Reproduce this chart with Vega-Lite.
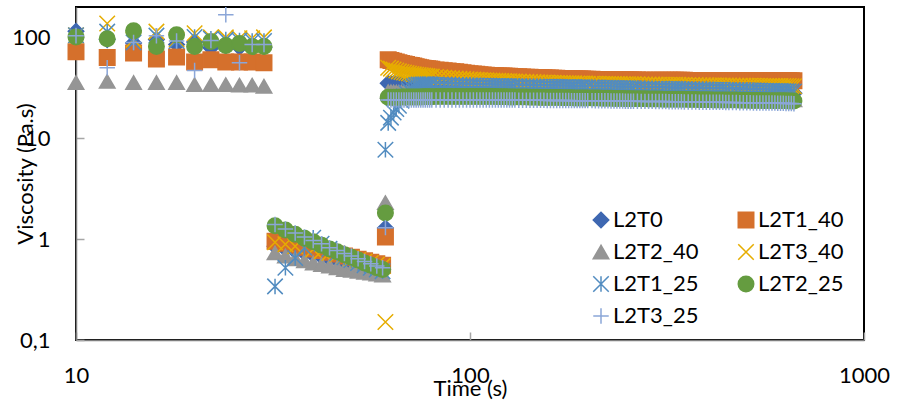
{
"$schema": "https://vega.github.io/schema/vega-lite/v6.json",
"width": 788, "height": 333,
"autosize": {"type": "none"},
"padding": {"left": 76, "top": 7, "right": 33, "bottom": 65},
"background": "white",
"config": {"view": {"stroke": "#000000", "strokeWidth": 2}, "font": "Lato"},
"data": {"values": [
{"t":10,"a":115,"b":72,"c":35.7,"d":105,"e":105,"f":101,"g":104},
{"t":12,"a":95,"b":63,"c":36.6,"d":137,"e":114,"f":97,"g":50},
{"t":14,"a":88,"b":70,"c":35.7,"d":95,"e":89,"f":116,"g":89},
{"t":16,"a":95,"b":61,"c":35.7,"d":114,"e":104,"f":81,"g":104},
{"t":18,"a":85,"b":64,"c":35.7,"d":95,"e":92,"f":106,"g":92},
{"t":20,"a":90,"b":57,"c":34,"d":110,"e":101,"f":81,"g":47},
{"t":22,"a":79,"b":60,"c":34,"d":100,"e":97,"f":91,"g":93},
{"t":24,"a":82,"b":57,"c":34,"d":100,"e":95,"f":83,"g":168},
{"t":26,"a":80,"b":57,"c":33.6,"d":98,"e":93,"f":87,"g":56},
{"t":28,"a":80,"b":57,"c":33.6,"d":98,"e":92,"f":81,"g":85},
{"t":30,"a":80,"b":56,"c":32.8,"d":100,"e":92,"f":81,"g":85},
{"t":32,"a":0.85,"b":0.95,"c":0.73,"d":0.93,"e":0.34,"f":1.36,"g":1.4},
{"t":34,"a":0.8,"b":0.91,"c":0.68,"d":0.89,"e":0.52,"f":1.23,"g":1.26},
{"t":36,"a":0.76,"b":0.87,"c":0.64,"d":0.85,"e":0.65,"f":1.12,"g":1.15},
{"t":38,"a":0.73,"b":0.83,"c":0.61,"d":0.82,"e":0.82,"f":1.02,"g":1.05},
{"t":40,"a":0.7,"b":0.8,"c":0.58,"d":0.79,"e":1.03,"f":0.94,"g":0.97},
{"t":42,"a":0.67,"b":0.77,"c":0.56,"d":0.76,"e":0.9,"f":0.87,"g":0.9},
{"t":44,"a":0.64,"b":0.74,"c":0.54,"d":0.73,"e":0.8,"f":0.8,"g":0.82},
{"t":46,"a":0.62,"b":0.71,"c":0.52,"d":0.7,"e":0.72,"f":0.75,"g":0.77},
{"t":48,"a":0.6,"b":0.68,"c":0.5,"d":0.67,"e":0.66,"f":0.7,"g":0.72},
{"t":50,"a":0.58,"b":0.66,"c":0.49,"d":0.65,"e":0.62,"f":0.66,"g":0.68},
{"t":52,"a":0.56,"b":0.63,"c":0.48,"d":0.62,"e":0.58,"f":0.62,"g":0.64},
{"t":54,"a":0.54,"b":0.61,"c":0.47,"d":0.6,"e":0.55,"f":0.58,"g":0.6},
{"t":56,"a":0.52,"b":0.59,"c":0.46,"d":0.58,"e":0.52,"f":0.55,"g":0.57},
{"t":58,"a":0.51,"b":0.57,"c":0.45,"d":0.56,"e":0.5,"f":0.52,"g":0.54},
{"t":60,"a":0.5,"b":0.55,"c":0.44,"d":0.54,"e":0.48,"f":0.5,"g":0.52},
{"t":61,"a":1.29,"b":1.05,"c":2.3,"d":0.151,"e":7.7,"f":1.82,"g":1.3},
{"t":62,"a":35,"b":60,"c":29,"d":50,"e":14.2,"f":25.5,"g":24},
{"t":63,"a":34.8,"b":59,"c":28.9,"d":49,"e":16,"f":25.5,"g":24},
{"t":64,"a":34.6,"b":58,"c":28.8,"d":48,"e":18,"f":25.5,"g":24},
{"t":65,"a":34.4,"b":57,"c":28.7,"d":47,"e":19.5,"f":25.5,"g":24},
{"t":66,"a":34.2,"b":56,"c":28.6,"d":46,"e":21,"f":25.5,"g":24},
{"t":67,"a":34,"b":55.2,"c":28.6,"d":45.4,"e":23.5,"f":25.6,"g":24},
{"t":68,"a":33.9,"b":54.5,"c":28.5,"d":44.8,"e":26,"f":25.6,"g":24},
{"t":69,"a":33.7,"b":53.7,"c":28.5,"d":44.3,"e":28,"f":25.6,"g":24},
{"t":70,"a":33.6,"b":53,"c":28.4,"d":43.8,"e":30,"f":25.6,"g":24},
{"t":71,"a":33.5,"b":52.5,"c":28.4,"d":43.4,"e":31.5,"f":25.7,"g":24},
{"t":72,"a":33.4,"b":52,"c":28.3,"d":43,"e":33,"f":25.7,"g":24},
{"t":73,"a":33.3,"b":51.2,"c":28.3,"d":42.6,"e":33.6,"f":25.7,"g":24},
{"t":74,"a":33.2,"b":50.5,"c":28.2,"d":42.3,"e":34,"f":25.7,"g":24},
{"t":75,"a":33.1,"b":50,"c":28.2,"d":42,"e":34.1,"f":25.7,"g":24},
{"t":76,"a":33,"b":49.5,"c":28.1,"d":41.8,"e":34.2,"f":25.8,"g":24},
{"t":77,"a":33,"b":49.1,"c":28.1,"d":41.5,"e":34.2,"f":25.8,"g":24},
{"t":78,"a":32.9,"b":48.8,"c":28,"d":41.3,"e":34.2,"f":25.8,"g":24},
{"t":79,"a":32.9,"b":48.5,"c":28,"d":41,"e":34.2,"f":25.8,"g":24},
{"t":80,"a":32.8,"b":48.2,"c":27.9,"d":40.8,"e":34.1,"f":25.8,"g":24},
{"t":82,"a":32.7,"b":47.6,"c":27.9,"d":40.4,"e":34,"f":25.9,"g":24},
{"t":84,"a":32.6,"b":47.2,"c":27.8,"d":40.1,"e":33.9,"f":25.9,"g":24},
{"t":86,"a":32.5,"b":46.8,"c":27.7,"d":39.8,"e":33.8,"f":26,"g":24},
{"t":88,"a":32.5,"b":46.5,"c":27.7,"d":39.5,"e":33.8,"f":26,"g":24},
{"t":90,"a":32.4,"b":46,"c":27.6,"d":39.3,"e":33.7,"f":26,"g":24},
{"t":92,"a":32.4,"b":45.5,"c":27.5,"d":39,"e":33.6,"f":26,"g":24},
{"t":94,"a":32.3,"b":45,"c":27.5,"d":38.8,"e":33.6,"f":26,"g":24},
{"t":96,"a":32.3,"b":44.5,"c":27.4,"d":38.6,"e":33.5,"f":26,"g":24},
{"t":98,"a":32.2,"b":44,"c":27.4,"d":38.4,"e":33.4,"f":26,"g":24},
{"t":100,"a":32.2,"b":43.6,"c":27.3,"d":38.2,"e":33.4,"f":26,"g":24},
{"t":102,"a":32.1,"b":43.3,"c":27.3,"d":38.1,"e":33.3,"f":26,"g":24},
{"t":104,"a":32.1,"b":43,"c":27.2,"d":37.9,"e":33.3,"f":26,"g":24},
{"t":106,"a":32,"b":42.7,"c":27.2,"d":37.8,"e":33.2,"f":26,"g":24},
{"t":108,"a":32,"b":42.4,"c":27.1,"d":37.6,"e":33.2,"f":26,"g":24},
{"t":110,"a":31.9,"b":42.2,"c":27.1,"d":37.5,"e":33.1,"f":25.9,"g":24},
{"t":112,"a":31.9,"b":42,"c":27,"d":37.4,"e":33.1,"f":25.9,"g":23.9},
{"t":114,"a":31.8,"b":41.8,"c":27,"d":37.3,"e":33,"f":25.9,"g":23.9},
{"t":116,"a":31.8,"b":41.7,"c":26.9,"d":37.2,"e":33,"f":25.9,"g":23.9},
{"t":118,"a":31.7,"b":41.5,"c":26.9,"d":37.1,"e":32.9,"f":25.8,"g":23.9},
{"t":120,"a":31.7,"b":41.4,"c":26.8,"d":37,"e":32.9,"f":25.8,"g":23.9},
{"t":122,"a":31.6,"b":41.3,"c":26.8,"d":36.9,"e":32.9,"f":25.8,"g":23.9},
{"t":124,"a":31.6,"b":41.2,"c":26.8,"d":36.8,"e":32.8,"f":25.8,"g":23.9},
{"t":126,"a":31.5,"b":41.1,"c":26.7,"d":36.7,"e":32.8,"f":25.7,"g":23.9},
{"t":128,"a":31.5,"b":41,"c":26.7,"d":36.6,"e":32.7,"f":25.7,"g":23.9},
{"t":130,"a":31.5,"b":40.8,"c":26.7,"d":36.5,"e":32.7,"f":25.7,"g":23.9},
{"t":133,"a":31.4,"b":40.6,"c":26.6,"d":36.4,"e":32.7,"f":25.6,"g":23.8},
{"t":136,"a":31.4,"b":40.5,"c":26.6,"d":36.3,"e":32.6,"f":25.6,"g":23.8},
{"t":139,"a":31.3,"b":40.3,"c":26.5,"d":36.2,"e":32.6,"f":25.6,"g":23.8},
{"t":142,"a":31.3,"b":40.2,"c":26.5,"d":36.1,"e":32.5,"f":25.5,"g":23.8},
{"t":145,"a":31.3,"b":40.1,"c":26.5,"d":36,"e":32.5,"f":25.5,"g":23.8},
{"t":148,"a":31.2,"b":39.9,"c":26.4,"d":35.8,"e":32.5,"f":25.5,"g":23.8},
{"t":151,"a":31.2,"b":39.8,"c":26.4,"d":35.7,"e":32.4,"f":25.4,"g":23.8},
{"t":154,"a":31.2,"b":39.7,"c":26.4,"d":35.7,"e":32.4,"f":25.4,"g":23.8},
{"t":157,"a":31.1,"b":39.6,"c":26.3,"d":35.6,"e":32.4,"f":25.4,"g":23.7},
{"t":160,"a":31.1,"b":39.5,"c":26.3,"d":35.5,"e":32.3,"f":25.3,"g":23.7},
{"t":163,"a":31,"b":39.4,"c":26.3,"d":35.4,"e":32.3,"f":25.3,"g":23.7},
{"t":166,"a":31,"b":39.3,"c":26.2,"d":35.3,"e":32.3,"f":25.3,"g":23.7},
{"t":169,"a":31,"b":39.2,"c":26.2,"d":35.3,"e":32.2,"f":25.3,"g":23.7},
{"t":172,"a":30.9,"b":39.1,"c":26.2,"d":35.2,"e":32.2,"f":25.2,"g":23.7},
{"t":175,"a":30.9,"b":39,"c":26.1,"d":35.1,"e":32.2,"f":25.2,"g":23.7},
{"t":178,"a":30.9,"b":39,"c":26.1,"d":35.1,"e":32.1,"f":25.2,"g":23.7},
{"t":181,"a":30.9,"b":38.9,"c":26.1,"d":35,"e":32.1,"f":25.2,"g":23.6},
{"t":184,"a":30.8,"b":38.8,"c":26,"d":35,"e":32.1,"f":25.1,"g":23.6},
{"t":187,"a":30.8,"b":38.7,"c":26,"d":34.9,"e":32,"f":25.1,"g":23.6},
{"t":190,"a":30.8,"b":38.7,"c":26,"d":34.9,"e":32,"f":25.1,"g":23.6},
{"t":193,"a":30.7,"b":38.6,"c":26,"d":34.8,"e":32,"f":25.1,"g":23.6},
{"t":196,"a":30.7,"b":38.5,"c":25.9,"d":34.8,"e":31.9,"f":25.1,"g":23.6},
{"t":199,"a":30.7,"b":38.4,"c":25.9,"d":34.7,"e":31.9,"f":25,"g":23.6},
{"t":204,"a":30.6,"b":38.4,"c":25.9,"d":34.7,"e":31.9,"f":25,"g":23.6},
{"t":208,"a":30.6,"b":38.3,"c":25.9,"d":34.6,"e":31.8,"f":25,"g":23.5},
{"t":212,"a":30.5,"b":38.2,"c":25.8,"d":34.6,"e":31.8,"f":25,"g":23.5},
{"t":216,"a":30.5,"b":38.1,"c":25.8,"d":34.5,"e":31.7,"f":24.9,"g":23.5},
{"t":220,"a":30.5,"b":38.1,"c":25.8,"d":34.5,"e":31.7,"f":24.9,"g":23.5},
{"t":224,"a":30.4,"b":38,"c":25.8,"d":34.5,"e":31.6,"f":24.9,"g":23.5},
{"t":228,"a":30.4,"b":38,"c":25.7,"d":34.4,"e":31.6,"f":24.9,"g":23.4},
{"t":232,"a":30.4,"b":37.9,"c":25.7,"d":34.4,"e":31.5,"f":24.8,"g":23.4},
{"t":236,"a":30.3,"b":37.9,"c":25.7,"d":34.4,"e":31.5,"f":24.8,"g":23.4},
{"t":240,"a":30.3,"b":37.8,"c":25.7,"d":34.4,"e":31.4,"f":24.8,"g":23.4},
{"t":244,"a":30.3,"b":37.8,"c":25.6,"d":34.3,"e":31.4,"f":24.8,"g":23.4},
{"t":248,"a":30.2,"b":37.8,"c":25.6,"d":34.3,"e":31.3,"f":24.7,"g":23.3},
{"t":252,"a":30.2,"b":37.7,"c":25.6,"d":34.3,"e":31.3,"f":24.7,"g":23.3},
{"t":256,"a":30.2,"b":37.7,"c":25.6,"d":34.2,"e":31.3,"f":24.7,"g":23.3},
{"t":260,"a":30.1,"b":37.7,"c":25.5,"d":34.2,"e":31.2,"f":24.7,"g":23.3},
{"t":266,"a":30.1,"b":37.7,"c":25.5,"d":34.2,"e":31.2,"f":24.6,"g":23.3},
{"t":272,"a":30,"b":37.6,"c":25.5,"d":34.1,"e":31.1,"f":24.6,"g":23.2},
{"t":278,"a":30,"b":37.6,"c":25.4,"d":34.1,"e":31.1,"f":24.6,"g":23.2},
{"t":284,"a":29.9,"b":37.6,"c":25.4,"d":34,"e":31,"f":24.5,"g":23.2},
{"t":290,"a":29.9,"b":37.6,"c":25.4,"d":34,"e":31,"f":24.5,"g":23.2},
{"t":296,"a":29.9,"b":37.6,"c":25.3,"d":34,"e":30.9,"f":24.5,"g":23.1},
{"t":302,"a":29.8,"b":37.5,"c":25.3,"d":33.9,"e":30.9,"f":24.5,"g":23.1},
{"t":308,"a":29.8,"b":37.5,"c":25.3,"d":33.9,"e":30.9,"f":24.4,"g":23.1},
{"t":314,"a":29.8,"b":37.5,"c":25.3,"d":33.9,"e":30.8,"f":24.4,"g":23.1},
{"t":320,"a":29.7,"b":37.5,"c":25.2,"d":33.8,"e":30.8,"f":24.4,"g":23},
{"t":326,"a":29.7,"b":37.5,"c":25.2,"d":33.8,"e":30.7,"f":24.4,"g":23},
{"t":332,"a":29.7,"b":37.5,"c":25.2,"d":33.8,"e":30.7,"f":24.3,"g":23},
{"t":338,"a":29.6,"b":37.5,"c":25.2,"d":33.8,"e":30.7,"f":24.3,"g":23},
{"t":344,"a":29.6,"b":37.5,"c":25.1,"d":33.7,"e":30.6,"f":24.3,"g":23},
{"t":350,"a":29.6,"b":37.5,"c":25.1,"d":33.7,"e":30.6,"f":24.3,"g":22.9},
{"t":358,"a":29.5,"b":37.4,"c":25.1,"d":33.6,"e":30.6,"f":24.2,"g":22.9},
{"t":366,"a":29.5,"b":37.4,"c":25,"d":33.6,"e":30.5,"f":24.2,"g":22.9},
{"t":374,"a":29.4,"b":37.4,"c":25,"d":33.6,"e":30.5,"f":24.2,"g":22.9},
{"t":382,"a":29.4,"b":37.4,"c":25,"d":33.5,"e":30.5,"f":24.1,"g":22.8},
{"t":390,"a":29.3,"b":37.4,"c":24.9,"d":33.5,"e":30.4,"f":24.1,"g":22.8},
{"t":398,"a":29.3,"b":37.4,"c":24.9,"d":33.5,"e":30.4,"f":24.1,"g":22.8},
{"t":406,"a":29.3,"b":37.4,"c":24.9,"d":33.4,"e":30.3,"f":24.1,"g":22.8},
{"t":414,"a":29.2,"b":37.4,"c":24.9,"d":33.4,"e":30.3,"f":24,"g":22.7},
{"t":422,"a":29.2,"b":37.4,"c":24.8,"d":33.4,"e":30.3,"f":24,"g":22.7},
{"t":430,"a":29.1,"b":37.4,"c":24.8,"d":33.4,"e":30.2,"f":24,"g":22.7},
{"t":438,"a":29.1,"b":37.4,"c":24.8,"d":33.3,"e":30.2,"f":24,"g":22.7},
{"t":446,"a":29.1,"b":37.4,"c":24.7,"d":33.3,"e":30.1,"f":23.9,"g":22.6},
{"t":454,"a":29,"b":37.4,"c":24.7,"d":33.3,"e":30.1,"f":23.9,"g":22.6},
{"t":464,"a":29,"b":37.3,"c":24.7,"d":33.3,"e":30.1,"f":23.9,"g":22.6},
{"t":474,"a":28.9,"b":37.3,"c":24.6,"d":33.2,"e":30,"f":23.9,"g":22.6},
{"t":484,"a":28.9,"b":37.3,"c":24.6,"d":33.2,"e":30,"f":23.8,"g":22.5},
{"t":494,"a":28.8,"b":37.3,"c":24.6,"d":33.2,"e":29.9,"f":23.8,"g":22.5},
{"t":504,"a":28.8,"b":37.3,"c":24.5,"d":33.2,"e":29.9,"f":23.8,"g":22.5},
{"t":514,"a":28.7,"b":37.3,"c":24.5,"d":33.1,"e":29.8,"f":23.7,"g":22.5},
{"t":524,"a":28.7,"b":37.3,"c":24.5,"d":33.1,"e":29.8,"f":23.7,"g":22.4},
{"t":534,"a":28.6,"b":37.3,"c":24.4,"d":33.1,"e":29.7,"f":23.7,"g":22.4},
{"t":544,"a":28.6,"b":37.3,"c":24.4,"d":33.1,"e":29.7,"f":23.7,"g":22.4},
{"t":554,"a":28.5,"b":37.3,"c":24.4,"d":33,"e":29.6,"f":23.6,"g":22.4},
{"t":564,"a":28.5,"b":37.3,"c":24.3,"d":33,"e":29.6,"f":23.6,"g":22.3},
{"t":574,"a":28.4,"b":37.2,"c":24.3,"d":33,"e":29.5,"f":23.6,"g":22.3},
{"t":584,"a":28.4,"b":37.2,"c":24.3,"d":33,"e":29.5,"f":23.6,"g":22.3},
{"t":594,"a":28.4,"b":37.2,"c":24.3,"d":33,"e":29.4,"f":23.5,"g":22.3},
{"t":604,"a":28.3,"b":37.2,"c":24.2,"d":32.9,"e":29.4,"f":23.5,"g":22.2},
{"t":614,"a":28.3,"b":37.2,"c":24.2,"d":32.9,"e":29.3,"f":23.5,"g":22.2},
{"t":624,"a":28.2,"b":37.2,"c":24.2,"d":32.9,"e":29.3,"f":23.5,"g":22.2},
{"t":634,"a":28.2,"b":37.2,"c":24.1,"d":32.9,"e":29.2,"f":23.5,"g":22.1},
{"t":644,"a":28.1,"b":37.2,"c":24.1,"d":32.9,"e":29.2,"f":23.4,"g":22.1},
{"t":654,"a":28.1,"b":37.2,"c":24.1,"d":32.8,"e":29.1,"f":23.4,"g":22.1},
{"t":664,"a":28,"b":37.2,"c":24,"d":32.8,"e":29.1,"f":23.4,"g":22}
]},
"transform": [
{"fold": ["a","b","c","d","e","f","g"], "as": ["key","v"]},
{"lookup": "key", "from": {"data": {"values": [
{"k":"a","series":"L2T0","idx":1},{"k":"b","series":"L2T1_40","idx":2},{"k":"c","series":"L2T2_40","idx":3},{"k":"d","series":"L2T3_40","idx":4},
{"k":"e","series":"L2T1_25","idx":5},{"k":"f","series":"L2T2_25","idx":6},{"k":"g","series":"L2T3_25","idx":7}]}, "key": "k", "fields": ["series","idx"]}}
],
"mark": {"type": "point", "opacity": 1, "strokeWidth": 1.5, "size": 240},
"encoding": {
"x": {"field": "t", "type": "quantitative",
 "scale": {"type": "log", "domain": [10, 1000], "nice": false},
 "axis": {"values": [10, 100, 1000], "format": "d", "grid": false, "labelFlush": false,
  "domainColor": "#7f7f7f", "domainWidth": 1.5, "tickColor": "#a6a6a6", "tickWidth": 1.5, "tickSize": -8,
  "labelFont": "Lato", "labelFontSize": 22, "labelColor": "#000000", "labelBaseline": "alphabetic", "labelPadding": 50,
  "title": "Time (s)", "titleFont": "Lato", "titleFontSize": 22, "titleFontWeight": "normal", "titleColor": "#000000",
  "titleBaseline": "alphabetic", "titleY": 55}},
"y": {"field": "v", "type": "quantitative",
 "scale": {"type": "log", "domain": [0.1, 200], "nice": false},
 "axis": {"values": [0.1, 1, 10, 100], "labelExpr": "datum.value < 0.5 ? '0,1' : format(datum.value, 'd')", "grid": false, "labelFlush": false,
  "domainColor": "#7f7f7f", "domainWidth": 1.5, "tickColor": "#a6a6a6", "tickWidth": 1.5, "tickSize": -8,
  "labelFont": "Lato", "labelFontSize": 22, "labelColor": "#000000", "labelPadding": 34,
  "title": "Viscosity (Pa.s)", "titleFont": "Lato", "titleFontSize": 22, "titleFontWeight": "normal", "titleColor": "#000000",
  "titleBaseline": "alphabetic", "titleX": -44}},
"shape": {"field": "series", "type": "nominal",
 "scale": {"domain": ["L2T0","L2T1_40","L2T2_40","L2T3_40","L2T1_25","L2T2_25","L2T3_25"],
  "range": ["diamond","square","triangle-up","M-1,-1L1,1M-1,1L1,-1","M-1,-1L1,1M-1,1L1,-1M0,-1L0,1","circle","M-1,0L1,0M0,-1L0,1"]},
 "legend": {"title": null, "orient": "none", "direction": "horizontal", "legendX": 514, "legendY": 202, "columns": 2, "columnPadding": 36, "rowPadding": 10, "padding": 0,
  "labelFont": "Lato", "labelFontSize": 22, "labelColor": "#000000", "symbolSize": 240, "symbolStrokeWidth": 1.5, "labelOffset": 1}},
"fill": {"field": "series", "type": "nominal",
 "scale": {"domain": ["L2T0","L2T1_40","L2T2_40","L2T3_40","L2T1_25","L2T2_25","L2T3_25"],
  "range": ["#3E67B1","#D5702C","#959595","transparent","transparent","#659C40","transparent"]},
 "legend": {"title": null, "orient": "none", "direction": "horizontal", "legendX": 514, "legendY": 202, "columns": 2, "columnPadding": 36, "rowPadding": 10, "padding": 0,
  "labelFont": "Lato", "labelFontSize": 22, "labelColor": "#000000", "symbolSize": 240, "symbolStrokeWidth": 1.5, "labelOffset": 1}},
"stroke": {"field": "series", "type": "nominal",
 "scale": {"domain": ["L2T0","L2T1_40","L2T2_40","L2T3_40","L2T1_25","L2T2_25","L2T3_25"],
  "range": ["#3E67B1","#D5702C","#959595","#E6AD00","#528CC0","#659C40","#8BA6D8"]},
 "legend": {"title": null, "orient": "none", "direction": "horizontal", "legendX": 514, "legendY": 202, "columns": 2, "columnPadding": 36, "rowPadding": 10, "padding": 0,
  "labelFont": "Lato", "labelFontSize": 22, "labelColor": "#000000", "symbolSize": 240, "symbolStrokeWidth": 1.5, "labelOffset": 1}},
"order": {"field": "idx", "type": "quantitative"}
}
}
